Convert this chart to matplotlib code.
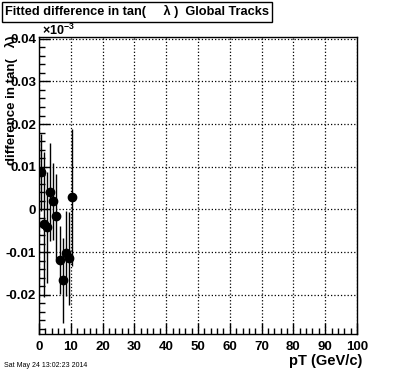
import matplotlib
matplotlib.use('Agg')
import matplotlib.pyplot as plt
from matplotlib.ticker import MultipleLocator

plt.rcParams['font.family'] = ['Liberation Sans', 'DejaVu Sans']
plt.rcParams['font.weight'] = 'bold'
plt.rcParams['mathtext.fontset'] = 'custom'
plt.rcParams['mathtext.rm'] = 'Liberation Sans'

# fitted difference per pT bin
pt = [0.5, 1.5, 2.5, 3.5, 4.5, 5.5, 6.5, 7.5, 8.5, 9.5, 10.5]
diff = [0.0087, -0.0035, -0.0042, 0.0041, 0.0019, -0.0016, -0.0119, -0.0166, -0.0103, -0.0115, 0.0028]
err = [0.009, 0.017, 0.013, 0.0114, 0.009, 0.010, 0.008, 0.010, 0.010, 0.011, 0.016]

xticks = [0, 10, 20, 30, 40, 50, 60, 70, 80, 90, 100]
yticks = [-0.02, -0.01, 0, 0.01, 0.02, 0.03, 0.04]
ylabels = ['-0.02', '-0.01', '0', '0.01', '0.02', '0.03', '0.04']

fig = plt.figure(figsize=(3.96, 3.72), dpi=100)
ax = fig.add_axes([0.0985, 0.1022, 0.803, 0.7983])

ax.errorbar(pt, diff, yerr=err, fmt='o', color='black', markersize=6,
            elinewidth=1, capsize=0)

ax.set_xlim(0, 100)
ax.set_ylim(-0.0292, 0.0404)
ax.set_xticks(xticks)
ax.set_xticklabels([str(t) for t in xticks])
ax.set_yticks(yticks)
ax.set_yticklabels(ylabels)
ax.xaxis.set_minor_locator(MultipleLocator(2))
ax.yaxis.set_minor_locator(MultipleLocator(0.002))
ax.tick_params(which='both', direction='in', top=False, right=False,
               labelsize=9.5, width=1)
ax.tick_params(axis='x', pad=5)
ax.tick_params(axis='y', pad=2)
ax.tick_params(which='major', length=8)
ax.tick_params(which='minor', length=4)
ax.grid(True, which='major', linestyle=':', color='black', linewidth=0.9)
for s in ax.spines.values():
    s.set_linewidth(1)

fig.text(0.107, 0.897, r'$\times$10$^{-3}$', fontsize=9, ha='left', va='bottom')

fig.text(0.012, 0.968, 'Fitted difference in tan(     λ )  Global Tracks',
         fontsize=9.2, ha='left', va='center',
         bbox=dict(boxstyle='square,pad=0.25', fc='white', ec='black', lw=1))

fig.text(0.03, 0.905, 'difference in tan(   λ)', rotation=90,
         fontsize=9.5, ha='center', va='top')

fig.text(0.915, 0.03, 'pT (GeV/c)', fontsize=10.5, ha='right', va='center')
fig.text(0.01, 0.018, 'Sat May 24 13:02:23 2014', fontsize=5, ha='left',
         va='center', weight='normal')

fig.savefig('out.png', dpi=100)
